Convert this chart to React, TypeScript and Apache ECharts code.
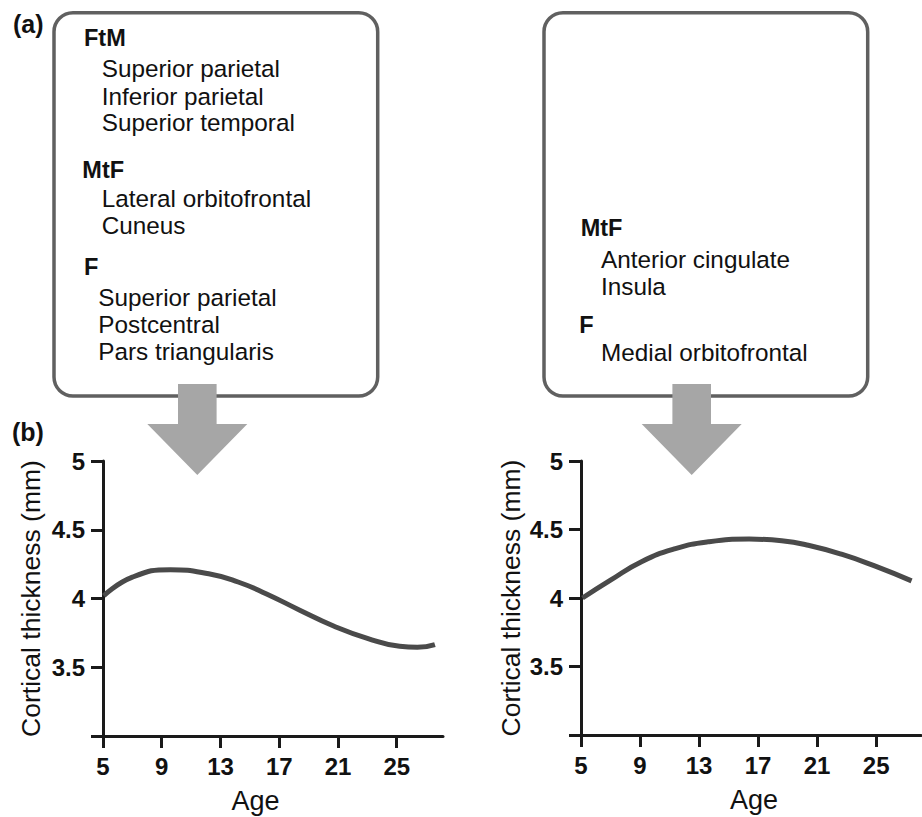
import React, { useEffect, useRef } from "react";
import * as echarts from "echarts";

// ---- Data ----
const ageTicks = [5, 9, 13, 17, 21, 25];
const leftAges = [5.05, 7, 9.6, 12.2, 14.2, 16.1, 18.4, 20.7, 23, 25.2, 26.4, 27.6];
const leftThickness = [4.02, 4.155, 4.21, 4.18, 4.12, 4.035, 3.915, 3.8, 3.71, 3.652, 3.645, 3.665];
const rightAges = [5.1, 7, 9.1, 11.4, 13.6, 16.4, 18.6, 20.4, 22.7, 24.9, 27.4];
const rightThickness = [4.0, 4.13, 4.265, 4.36, 4.41, 4.43, 4.418, 4.385, 4.318, 4.234, 4.125];

const leftBoxHeads = ["FtM", "MtF", "F"];
const leftBoxItems = [
  ["Superior parietal", "Inferior parietal", "Superior temporal"],
  ["Lateral orbitofrontal", "Cuneus"],
  ["Superior parietal", "Postcentral", "Pars triangularis"],
];
const rightBoxHeads = ["MtF", "F"];
const rightBoxItems = [["Anterior cingulate", "Insula"], ["Medial orbitofrontal"]];
const panelLabels = ["(a)", "(b)"];
const yName = "Cortical thickness (mm)";
const xName = "Age";

const FONT = '"Liberation Sans", Arial, sans-serif';
const INK = "#111";

function txt(text: string, x: number, y: number, size: number, bold: boolean) {
  return {
    type: "text",
    x,
    y,
    style: {
      text,
      fill: INK,
      font: `${bold ? "bold " : ""}${size}px ${FONT}`,
      align: "left",
      verticalAlign: "middle",
      textAlign: "left",
      textVerticalAlign: "middle",
    },
  };
}

function arrow(cx: number, top: number, color: string) {
  const sh = 19.3; // half shaft width
  const hh = 50; // half head width
  return {
    type: "polygon",
    shape: {
      points: [
        [cx - sh, top],
        [cx + sh, top],
        [cx + sh, top + 40],
        [cx + hh, top + 40],
        [cx, top + 91],
        [cx - hh, top + 40],
        [cx - sh, top + 40],
      ],
    },
    style: { fill: color },
    z: 100,
  };
}

export default function App() {
  const ref = useRef<HTMLDivElement>(null);
  useEffect(() => {
    if (!ref.current) return;
    const chart = echarts.init(ref.current, undefined, { renderer: "svg" });

    const axisLineStyle = { color: "#1a1a1a", width: 3 };
    const mkX = (gridIndex: number, max: number, pad: number[]) => ({
      type: "value",
      gridIndex,
      min: 5,
      max,
      name: xName,
      nameLocation: "middle",
      nameGap: 51,
      nameTextStyle: { fontSize: 27, color: INK, fontFamily: FONT, padding: pad },
      axisLine: { show: true, onZero: false, lineStyle: axisLineStyle },
      axisTick: { show: true, length: 12, customValues: ageTicks, lineStyle: axisLineStyle },
      axisLabel: {
        customValues: ageTicks,
        margin: 18,
        fontSize: 24,
        fontWeight: "bold",
        color: INK,
        fontFamily: FONT,
      },
      splitLine: { show: false },
    });
    const mkY = (gridIndex: number, gap: number) => ({
      type: "value",
      gridIndex,
      min: 3,
      max: 5,
      interval: 0.5,
      name: yName,
      nameLocation: "middle",
      nameGap: gap,
      nameTextStyle: { fontSize: 26.5, color: INK, fontFamily: FONT },
      axisLine: { show: true, lineStyle: axisLineStyle },
      axisTick: { show: true, length: 12, lineStyle: axisLineStyle },
      axisLabel: {
        margin: 18,
        fontSize: 24,
        fontWeight: "bold",
        color: INK,
        fontFamily: FONT,
        formatter: (v: number) => (v === 3 ? "" : String(v)),
      },
      splitLine: { show: false },
    });

    const graphics: any[] = [];
    // boxes
    graphics.push({
      type: "rect",
      shape: { x: 54, y: 12.7, width: 323.7, height: 383.3, r: 19 },
      style: { fill: "none", stroke: "#606060", lineWidth: 3.5 },
    });
    graphics.push({
      type: "rect",
      shape: { x: 544, y: 12.7, width: 323.7, height: 383.3, r: 19 },
      style: { fill: "none", stroke: "#606060", lineWidth: 3.5 },
    });
    // left box text
    const leftHeadPos = [
      [84, 37.7],
      [82.3, 169.7],
      [84, 267],
    ];
    const leftItemPos = [
      [101.7, [68.7, 96, 122.7]],
      [101.7, [198, 225.3]],
      [98.3, [297, 324.3, 351.3]],
    ];
    leftBoxHeads.forEach((h, i) => {
      graphics.push(txt(h, leftHeadPos[i][0], leftHeadPos[i][1], 23.5, true));
      const [ix, ys] = leftItemPos[i] as [number, number[]];
      leftBoxItems[i].forEach((t, j) => graphics.push(txt(t, ix, ys[j], 24.3, false)));
    });
    const rightHeadPos = [
      [580.7, 228],
      [579.3, 325.3],
    ];
    const rightItemPos = [
      [601, [259.3, 286]],
      [601, [352]],
    ];
    rightBoxHeads.forEach((h, i) => {
      graphics.push(txt(h, rightHeadPos[i][0], rightHeadPos[i][1], 23.5, true));
      const [ix, ys] = rightItemPos[i] as [number, number[]];
      rightBoxItems[i].forEach((t, j) => graphics.push(txt(t, ix, ys[j], 24.3, false)));
    });
    // panel labels
    graphics.push(txt(panelLabels[0], 13, 24, 25, true));
    graphics.push(txt(panelLabels[1], 12, 432, 25, true));
    // arrows
    graphics.push(arrow(197.3, 384, "#a6a6a6"));
    graphics.push(arrow(691.7, 384, "#a6a6a6"));

    chart.setOption({
      animation: false,
      backgroundColor: "#fff",
      grid: [
        { left: 103, top: 461, width: 340, height: 275 },
        { left: 581, top: 461, width: 340, height: 274 },
      ],
      xAxis: [mkX(0, 28.15, [0, 35, 0, 0]), mkX(1, 28.04, [0, 0, 0, 6])],
      yAxis: [mkY(0, 59), mkY(1, 57)],
      series: [
        {
          type: "line",
          xAxisIndex: 0,
          yAxisIndex: 0,
          smooth: 0.5,
          showSymbol: false,
          data: leftAges.map((a, i) => [a, leftThickness[i]]),
          lineStyle: { color: "#4a4a4a", width: 5 },
        },
        {
          type: "line",
          xAxisIndex: 1,
          yAxisIndex: 1,
          smooth: 0.5,
          showSymbol: false,
          data: rightAges.map((a, i) => [a, rightThickness[i]]),
          lineStyle: { color: "#4a4a4a", width: 5 },
        },
      ],
      graphic: { elements: graphics },
    });
    return () => chart.dispose();
  }, []);
  return (
    <div
      ref={ref}
      style={{ position: "absolute", left: 0, top: 0, width: 922, height: 817 }}
    />
  );
}
